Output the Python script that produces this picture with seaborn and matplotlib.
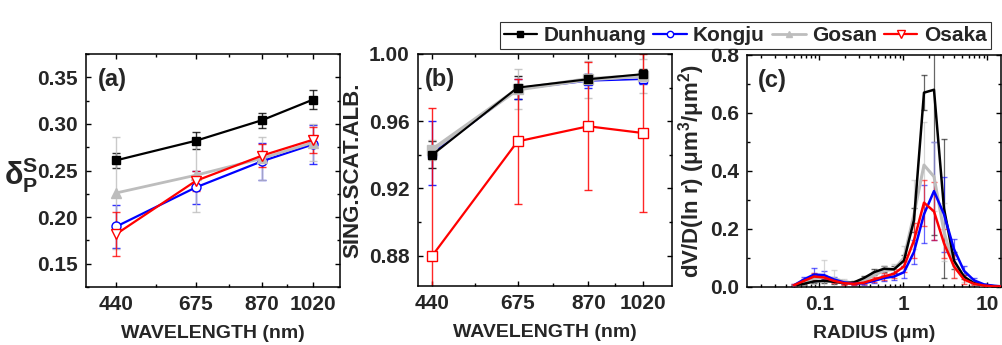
import numpy as np
import pandas as pd
import matplotlib
matplotlib.use("Agg")
import matplotlib.pyplot as plt
import seaborn as sns
from matplotlib.ticker import FixedLocator, MultipleLocator, LogLocator, NullFormatter

sites = ["Dunhuang", "Kongju", "Gosan", "Osaka"]
wavelength = [440, 675, 870, 1020]

# (a) particle depolarization ratio
depol = {
    "Dunhuang": [0.261, 0.282, 0.304, 0.326],
    "Kongju": [0.190, 0.232, 0.260, 0.278],
    "Gosan": [0.226, 0.245, 0.263, 0.280],
    "Osaka": [0.182, 0.239, 0.266, 0.283],
}
depol_err = {
    "Dunhuang": [0.008, 0.009, 0.008, 0.010],
    "Kongju": [0.023, 0.018, 0.020, 0.021],
    "Gosan": [0.060, 0.040, 0.023, 0.020],
    "Osaka": [0.024, 0.011, 0.012, 0.014],
}

# (b) single scattering albedo
ssa = {
    "Dunhuang": [0.940, 0.980, 0.985, 0.988],
    "Kongju": [0.941, 0.979, 0.984, 0.985],
    "Gosan": [0.943, 0.979, 0.985, 0.987],
    "Osaka": [0.880, 0.948, 0.957, 0.953],
}
ssa_err = {
    "Dunhuang": [0.008, 0.007, 0.003, 0.003],
    "Kongju": [0.019, 0.006, 0.004, 0.003],
    "Gosan": [0.006, 0.012, 0.011, 0.010],
    "Osaka": [0.088, 0.037, 0.038, 0.047],
}

# (c) volume size distribution
radius = [0.05, 0.0658, 0.0865, 0.1138, 0.1496, 0.1967, 0.2587, 0.3402, 0.4474,
          0.5883, 0.7737, 1.0174, 1.3379, 1.7594, 2.3136, 3.0425, 4.0010, 5.2614,
          6.9189, 9.0986, 11.9649, 15.0]
vsd = {
    "Dunhuang": [0.004, 0.010, 0.018, 0.020, 0.017, 0.012, 0.015, 0.030, 0.050, 0.062, 0.060,
                 0.090, 0.230, 0.670, 0.680, 0.270, 0.090, 0.035, 0.012, 0.004, 0.002, 0.001],
    "Kongju": [0.005, 0.025, 0.042, 0.040, 0.025, 0.015, 0.010, 0.012, 0.020, 0.030, 0.035,
               0.050, 0.120, 0.250, 0.330, 0.250, 0.130, 0.055, 0.022, 0.008, 0.003, 0.001],
    "Gosan": [0.004, 0.015, 0.028, 0.032, 0.028, 0.018, 0.012, 0.020, 0.040, 0.055, 0.060,
              0.100, 0.250, 0.420, 0.380, 0.190, 0.070, 0.030, 0.010, 0.004, 0.001, 0.001],
    "Osaka": [0.005, 0.020, 0.035, 0.032, 0.020, 0.012, 0.010, 0.014, 0.025, 0.035, 0.045,
              0.070, 0.160, 0.290, 0.260, 0.150, 0.070, 0.025, 0.010, 0.004, 0.001, 0.001],
}
vsd_err = {
    "Dunhuang": [0.002, 0.004, 0.006, 0.008, 0.006, 0.004, 0.005, 0.008, 0.010, 0.010, 0.012,
                 0.020, 0.040, 0.060, 0.500, 0.240, 0.030, 0.010, 0.004, 0.002, 0.001, 0.001],
    "Kongju": [0.003, 0.010, 0.022, 0.015, 0.010, 0.005, 0.004, 0.006, 0.008, 0.010, 0.012,
               0.020, 0.040, 0.100, 0.170, 0.130, 0.035, 0.015, 0.008, 0.003, 0.001, 0.001],
    "Gosan": [0.003, 0.010, 0.020, 0.060, 0.030, 0.010, 0.008, 0.010, 0.015, 0.015, 0.020,
              0.040, 0.120, 0.150, 0.120, 0.100, 0.040, 0.015, 0.005, 0.002, 0.001, 0.001],
    "Osaka": [0.003, 0.008, 0.012, 0.010, 0.008, 0.005, 0.004, 0.006, 0.010, 0.012, 0.015,
              0.020, 0.060, 0.080, 0.100, 0.050, 0.040, 0.015, 0.005, 0.002, 0.001, 0.001],
}

colors = {"Dunhuang": "black", "Kongju": "#0000ff", "Gosan": "#bdbdbd", "Osaka": "#ff0000"}
markers_a = {"Dunhuang": ("s", 6, "black"), "Kongju": ("o", 6.5, "white"),
             "Gosan": ("^", 6.5, "#bdbdbd"), "Osaka": ("v", 7.5, "white")}
lw = {"Dunhuang": 1.6, "Kongju": 1.6, "Gosan": 2.0, "Osaka": 1.6}

sns.set_theme(style="ticks")
plt.rcParams["font.family"] = ["Liberation Sans", "DejaVu Sans"]
plt.rcParams["font.weight"] = "bold"
plt.rcParams["axes.labelweight"] = "bold"
plt.rcParams["mathtext.fontset"] = "custom"
plt.rcParams["mathtext.rm"] = "Liberation Sans:bold"
plt.rcParams["mathtext.bf"] = "Liberation Sans:bold"
plt.rcParams["mathtext.it"] = "Liberation Sans:bold"
plt.rcParams["mathtext.default"] = "bf"

fig = plt.figure(figsize=(10.02, 3.45), dpi=100)
ax_a = fig.add_axes([0.0858, 0.168, 0.2535, 0.6755])
ax_b = fig.add_axes([0.4169, 0.171, 0.2535, 0.6725])
ax_c = fig.add_axes([0.7460, 0.169, 0.2530, 0.6716])


def style_axis(ax):
    for sp in ax.spines.values():
        sp.set_linewidth(1.1)
        sp.set_color("black")
    ax.tick_params(which="both", direction="in", top=True, right=True,
                   width=1.0, color="black", labelsize=15, pad=6)
    ax.tick_params(which="major", length=3.5)
    ax.tick_params(which="minor", length=2.2)
    for lab in ax.get_xticklabels() + ax.get_yticklabels():
        lab.set_fontweight("bold")


# panel (a)
for s in sites:
    m, ms, fc = markers_a[s]
    ax_a.errorbar(wavelength, depol[s], yerr=depol_err[s], fmt="none",
                  ecolor=colors[s], elinewidth=1.0, capsize=3, alpha=0.8, zorder=2)
    sns.lineplot(x=wavelength, y=depol[s], ax=ax_a, color=colors[s], lw=lw[s],
                 marker=m, markersize=ms, markerfacecolor=fc,
                 markeredgecolor=colors[s], markeredgewidth=1.0, label=s, zorder=3)
ax_a.set_xlim(350, 1100)
ax_a.set_ylim(0.125, 0.375)
ax_a.xaxis.set_major_locator(FixedLocator(wavelength))
ax_a.xaxis.set_minor_locator(FixedLocator([557.5, 772.5, 945]))
ax_a.set_yticks([0.15, 0.20, 0.25, 0.30, 0.35])
ax_a.set_yticklabels(["0.15", "0.20", "0.25", "0.30", "0.35"])
ax_a.yaxis.set_minor_locator(MultipleLocator(0.025))
ax_a.set_xlabel("WAVELENGTH (nm)", fontsize=14, labelpad=8)
ax_a.set_ylabel(r"$\mathrm{\delta}^{S}_{P}$", fontsize=22, rotation=0,
                ha="center", va="center")
ax_a.yaxis.set_label_coords(-0.255, 0.48)
ax_a.text(0.045, 0.94, "(a)", transform=ax_a.transAxes, fontsize=17,
          fontweight="bold", va="top", ha="left")
handles, labels = ax_a.get_legend_handles_labels()
ax_a.get_legend().remove()
style_axis(ax_a)

# panel (b)
ms_b = {"Dunhuang": 5.5, "Kongju": 5.5, "Gosan": 7, "Osaka": 7}
fc_b = {"Dunhuang": "black", "Kongju": "white", "Gosan": "#bdbdbd", "Osaka": "white"}
lw_b = {"Dunhuang": 1.5, "Kongju": 1.2, "Gosan": 3.0, "Osaka": 1.6}
for s in sites:
    ax_b.errorbar(wavelength, ssa[s], yerr=ssa_err[s], fmt="none",
                  ecolor=colors[s], elinewidth=1.0, capsize=3, alpha=0.85, zorder=2)
for s in ["Osaka", "Kongju", "Gosan", "Dunhuang"]:
    sns.lineplot(x=wavelength, y=ssa[s], ax=ax_b, color=colors[s], lw=lw_b[s],
                 marker="s", markersize=ms_b[s], markerfacecolor=fc_b[s],
                 markeredgecolor=colors[s], markeredgewidth=1.0, zorder=3)
ax_b.set_xlim(400, 1100)
ax_b.set_ylim(0.862, 1.0)
ax_b.xaxis.set_major_locator(FixedLocator(wavelength))
ax_b.xaxis.set_minor_locator(FixedLocator([557.5, 772.5, 945]))
ax_b.set_yticks([0.88, 0.92, 0.96, 1.00])
ax_b.set_yticklabels(["0.88", "0.92", "0.96", "1.00"])
ax_b.yaxis.set_minor_locator(MultipleLocator(0.02))
ax_b.set_xlabel("WAVELENGTH (nm)", fontsize=14, labelpad=8)
ax_b.set_ylabel("SING.SCAT.ALB.", fontsize=16, labelpad=4)
ax_b.text(0.03, 0.94, "(b)", transform=ax_b.transAxes, fontsize=17,
          fontweight="bold", va="top", ha="left")
style_axis(ax_b)

# panel (c)
lw_c = {"Dunhuang": 1.8, "Kongju": 1.8, "Gosan": 2.2, "Osaka": 1.8}
for s in sites:
    ax_c.errorbar(radius, vsd[s], yerr=vsd_err[s], fmt="none",
                  ecolor=colors[s], elinewidth=0.9, capsize=2.5, alpha=0.6, zorder=2)
for s in ["Gosan", "Dunhuang", "Kongju", "Osaka"]:
    sns.lineplot(x=radius, y=vsd[s], ax=ax_c, color=colors[s], lw=lw_c[s], zorder=3)
ax_c.set_xscale("log")
ax_c.set_xlim(0.014, 14.5)
ax_c.set_ylim(0, 0.8)
ax_c.set_xticks([0.1, 1, 10])
ax_c.set_xticklabels(["0.1", "1", "10"])
ax_c.xaxis.set_minor_locator(LogLocator(base=10, subs=np.arange(2, 10)))
ax_c.xaxis.set_minor_formatter(NullFormatter())
ax_c.set_yticks([0.0, 0.2, 0.4, 0.6, 0.8])
ax_c.set_yticklabels(["0.0", "0.2", "0.4", "0.6", "0.8"])
ax_c.yaxis.set_minor_locator(MultipleLocator(0.1))
ax_c.set_xlabel("RADIUS (μm)", fontsize=14, labelpad=8)
ax_c.set_ylabel("dV/D(ln r) (μm$^{3}$/μm$^{2}$)", fontsize=16, labelpad=2)
ax_c.text(0.04, 0.94, "(c)", transform=ax_c.transAxes, fontsize=17,
          fontweight="bold", va="top", ha="left")
style_axis(ax_c)

leg = fig.legend(handles, labels, loc="upper right", bbox_to_anchor=(0.999, 0.966),
                 ncol=4, frameon=True, fancybox=False, edgecolor="black",
                 prop={"family": "Liberation Sans", "weight": "bold", "size": 15},
                 handlelength=1.6, handletextpad=0.3, columnspacing=0.35,
                 borderpad=0.2, markerscale=0.7)
leg.get_frame().set_linewidth(0.8)

fig.savefig("out.png", dpi=100)
